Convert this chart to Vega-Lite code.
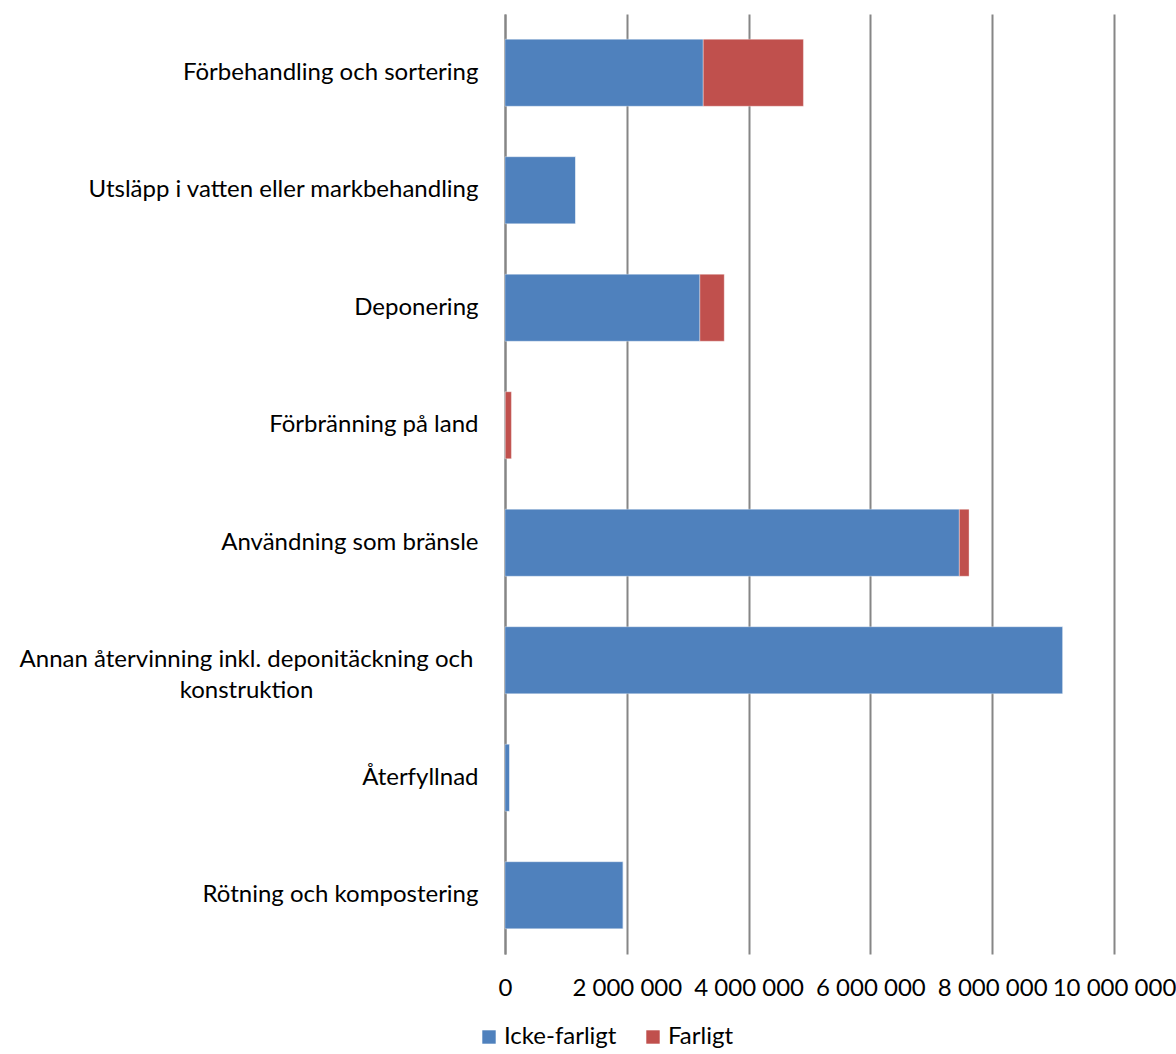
{
  "$schema": "https://vega.github.io/schema/vega-lite/v6.json",
  "width": 609,
  "height": 940,
  "autosize": {"type": "none"},
  "padding": {"left": 505, "top": 14, "right": 62, "bottom": 100},
  "background": "white",
  "data": {
    "values": [
      {"kategori": "Förbehandling och sortering", "typ": "Icke-farligt", "ord": 1, "ton": 3255000},
      {"kategori": "Förbehandling och sortering", "typ": "Farligt", "ord": 2, "ton": 1645000},
      {"kategori": "Utsläpp i vatten eller markbehandling", "typ": "Icke-farligt", "ord": 1, "ton": 1160000},
      {"kategori": "Utsläpp i vatten eller markbehandling", "typ": "Farligt", "ord": 2, "ton": 0},
      {"kategori": "Deponering", "typ": "Icke-farligt", "ord": 1, "ton": 3200000},
      {"kategori": "Deponering", "typ": "Farligt", "ord": 2, "ton": 400000},
      {"kategori": "Förbränning på land", "typ": "Icke-farligt", "ord": 1, "ton": 5000},
      {"kategori": "Förbränning på land", "typ": "Farligt", "ord": 2, "ton": 100000},
      {"kategori": "Användning som bränsle", "typ": "Icke-farligt", "ord": 1, "ton": 7460000},
      {"kategori": "Användning som bränsle", "typ": "Farligt", "ord": 2, "ton": 160000},
      {"kategori": "Annan återvinning inkl. deponitäckning och konstruktion", "typ": "Icke-farligt", "ord": 1, "ton": 9160000},
      {"kategori": "Annan återvinning inkl. deponitäckning och konstruktion", "typ": "Farligt", "ord": 2, "ton": 0},
      {"kategori": "Återfyllnad", "typ": "Icke-farligt", "ord": 1, "ton": 77000},
      {"kategori": "Återfyllnad", "typ": "Farligt", "ord": 2, "ton": 0},
      {"kategori": "Rötning och kompostering", "typ": "Icke-farligt", "ord": 1, "ton": 1940000},
      {"kategori": "Rötning och kompostering", "typ": "Farligt", "ord": 2, "ton": 0}
    ]
  },
  "mark": {"type": "bar", "stroke": "white", "strokeOpacity": 0.35, "strokeWidth": 1},
  "encoding": {
    "y": {
      "field": "kategori",
      "type": "nominal",
      "sort": null,
      "title": null,
      "scale": {"paddingInner": 0.43, "paddingOuter": 0.215},
      "axis": {
        "domain": true,
        "domainColor": "#868686",
        "domainWidth": 2,
        "ticks": false,
        "labelPadding": {"condition": {"test": "datum.value == 'Annan återvinning inkl. deponitäckning och konstruktion'", "value": 259}, "value": 27},
        "labelAlign": {"condition": {"test": "datum.value == 'Annan återvinning inkl. deponitäckning och konstruktion'", "value": "center"}, "value": "right"},
        "labelFont": "Lato",
        "labelFontSize": 24,
        "labelColor": "#000000",
        "labelLimit": 600,
        "labelLineHeight": 31,
        "labelExpr": "datum.label == 'Annan återvinning inkl. deponitäckning och konstruktion' ? ['Annan återvinning inkl. deponitäckning och', 'konstruktion'] : datum.label"
      }
    },
    "x": {
      "field": "ton",
      "type": "quantitative",
      "stack": "zero",
      "title": null,
      "scale": {"domain": [0, 10000000], "nice": false},
      "axis": {
        "values": [0, 2000000, 4000000, 6000000, 8000000, 10000000],
        "domain": false,
        "ticks": false,
        "grid": true,
        "gridColor": "#868686",
        "gridWidth": 2,
        "labelPadding": 22,
        "labelFont": "Lato",
        "labelFontSize": 24,
        "labelColor": "#000000",
        "labelFlush": false,
        "labelExpr": "replace(format(datum.value, ','), /,/g, ' ')"
      }
    },
    "color": {
      "field": "typ",
      "type": "nominal",
      "scale": {"domain": ["Icke-farligt", "Farligt"], "range": ["#4F81BD", "#C0504D"]},
      "legend": {
        "title": null,
        "orient": "none",
        "direction": "horizontal",
        "legendX": -28,
        "legendY": 1011,
        "symbolType": "square",
        "symbolSize": 180,
        "symbolStrokeWidth": 0,
        "labelFont": "Lato",
        "labelFontSize": 24,
        "labelColor": "#000000",
        "columnPadding": 24,
        "labelOffset": 3
      }
    },
    "order": {"field": "ord", "type": "quantitative"}
  },
  "config": {"view": {"stroke": null}}
}
